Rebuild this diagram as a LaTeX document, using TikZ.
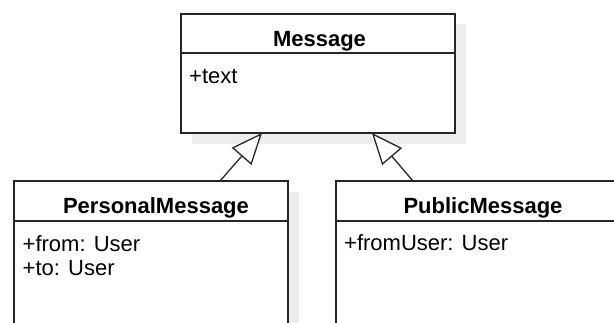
\documentclass[tikz,border=0pt]{standalone}
\usepackage{fontspec}
\setmainfont{Liberation Sans}
\usetikzlibrary{arrows.meta}
\definecolor{shadowgrey}{HTML}{EDEDED}
\definecolor{linegrey}{HTML}{262626}
\tikzset{
  umlbox/.style={draw=linegrey, line width=1.5pt, fill=white, inner sep=0pt, outer sep=0pt},
  shadowbox/.style={fill=shadowgrey, draw=none},
  divider/.style={draw=linegrey, line width=1.5pt},
  title/.style={font=\fontsize{22}{26}\selectfont\bfseries, inner sep=0pt, anchor=base},
  attr/.style={font=\fontsize{22}{26}\selectfont, inner sep=0pt, anchor=base west},
  inherit/.style={draw=linegrey, line width=1.3pt, -{Triangle[open, length=31pt, width=26pt, fill=white]}},
}
\begin{document}
\begin{tikzpicture}[x=1pt, y=-1pt]
\useasboundingbox (0,0) rectangle (614,322);
\clip (0,0) rectangle (614,322);
% shadows
\fill[shadowgrey] (192,24) rectangle (466,144);
\fill[shadowgrey] (25,192) rectangle (299,360);
\fill[shadowgrey] (347,192) rectangle (641,360);
% boxes
\node[umlbox, minimum width=274pt, minimum height=119pt] (msg) at (318,73.5) {};
\node[umlbox, minimum width=274pt, minimum height=170pt] (pers) at (151,266) {};
\node[umlbox, minimum width=294pt, minimum height=170pt] (pub) at (483,266) {};
% dividers
\draw[divider] (msg.west |- 0,53) coordinate (md1) -- (msg.east |- 0,53) coordinate (md2);
\draw[divider] (pers.west |- 0,221) coordinate (pd1) -- (pers.east |- 0,221) coordinate (pd2);
\draw[divider] (pub.west |- 0,221) coordinate (qd1) -- (pub.east |- 0,221) coordinate (qd2);
% texts
\node[title] (msgt) at (319.5,46) {Message};
\node[attr] (msga) at (189,83) {+text};
\node[title] (perst) at (156,213) {PersonalMessage};
\node[attr] (persa) at (22.5,251) {+from: User};
\node[attr] (persb) at (22.5,275) {+to: User};
\node[title] (pubt) at (483,213) {PublicMessage};
\node[attr] (puba) at (344,250) {+fromUser: User};
% inheritance
\draw[inherit] ([xshift=69pt]pers.north) -- ([xshift=-56pt]msg.south);
\draw[inherit] ([xshift=-70pt]pub.north) -- ([xshift=54pt]msg.south);
\end{tikzpicture}
\end{document}
